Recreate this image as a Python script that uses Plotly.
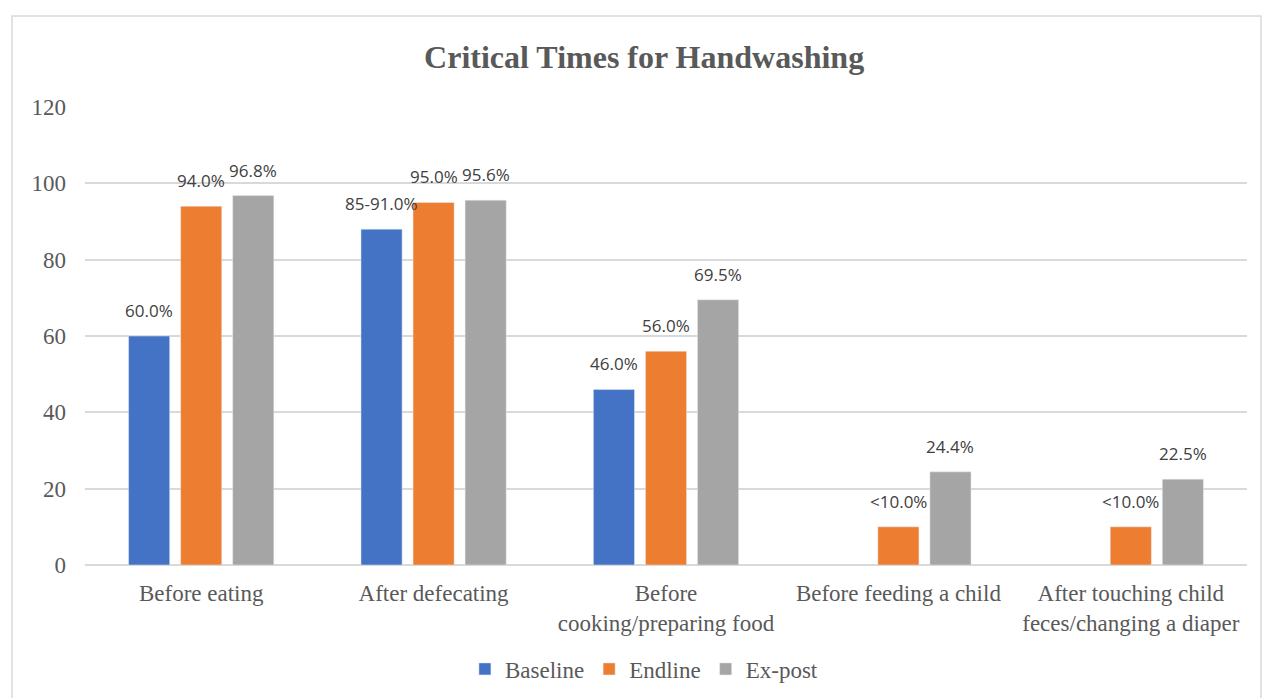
import plotly.graph_objects as go

# Survey results: share of respondents washing hands at each critical time
categories = [
    "Before eating",
    "After defecating",
    "Before<br>cooking/preparing food",
    "Before feeding a child",
    "After touching child<br>feces/changing a diaper",
]
baseline = [60.0, 88.0, 46.0, None, None]
endline = [94.0, 95.0, 56.0, 10.0, 10.0]
expost = [96.8, 95.6, 69.5, 24.4, 22.5]

baseline_labels = ["60.0%", "85-91.0%", "46.0%", "", ""]
endline_labels = ["94.0%", "95.0%", "56.0%", "<10.0%", "<10.0%"]
expost_labels = ["96.8%", "95.6%", "69.5%", "24.4%", "22.5%"]

series = [
    ("Baseline", baseline, baseline_labels, "#4472C4"),
    ("Endline", endline, endline_labels, "#ED7D31"),
    ("Ex-post", expost, expost_labels, "#A5A5A5"),
]

fig = go.Figure()
for name, values, labels, color in series:
    fig.add_trace(go.Bar(
        name=name, x=categories, y=values, marker_color=color,
        text=labels, textposition="none",
    ))

# Data labels sit above each bar, offset into the group slot of the series
slot = 1.0 / 3 * (1 - 0.328)
for i, (name, values, labels, color) in enumerate(series):
    offset = (i - 1) * slot
    for j, (v, lab) in enumerate(zip(values, labels)):
        if v is None or not lab:
            continue
        fig.add_annotation(
            x=j + offset, y=v, xref="x", yref="y", text=lab,
            showarrow=False, yanchor="bottom", yshift=12,
            font=dict(family="Open Sans", size=17, color="#404040"),
        )

fig.update_layout(
    width=1263, height=698,
    paper_bgcolor="white", plot_bgcolor="white",
    margin=dict(l=85, r=16, t=107, b=133, autoexpand=False),
    barmode="group", bargap=0.328, bargroupgap=0.21,
    title=dict(
        text="<b>Critical Times for Handwashing</b>",
        x=0.51, xanchor="center", y=0.918, yanchor="middle",
        font=dict(family="Liberation Serif", size=32, color="#595959"),
    ),
    legend=dict(
        orientation="h", x=0.481, xanchor="center", y=-0.227, yanchor="middle",
        font=dict(family="Liberation Serif", size=23, color="#595959"),
        itemclick=False,
    ),
    font=dict(family="Liberation Serif", size=23, color="#595959"),
    showlegend=True,
)

fig.update_xaxes(
    type="category", showgrid=False, showline=False, ticks="",
    automargin=False, ticklabelstandoff=12,
    tickfont=dict(family="Liberation Serif", size=23, color="#595959"),
)
fig.update_yaxes(
    range=[0, 120], dtick=20, showgrid=True, gridcolor="#D9D9D9", gridwidth=1.5,
    zeroline=True, zerolinecolor="#D9D9D9", zerolinewidth=1.5,
    showline=False, ticks="", ticklabelstandoff=18, automargin=False,
    tickfont=dict(family="Liberation Serif", size=23, color="#595959"),
)

# Chart area border
fig.add_shape(
    type="rect", xref="paper", yref="paper",
    x0=-0.0628, x1=1.012, y0=-0.32, y1=1.1987,
    line=dict(color="#D9D9D9", width=1.5), fillcolor="rgba(0,0,0,0)",
    layer="below",
)

fig.write_html("out.html")
